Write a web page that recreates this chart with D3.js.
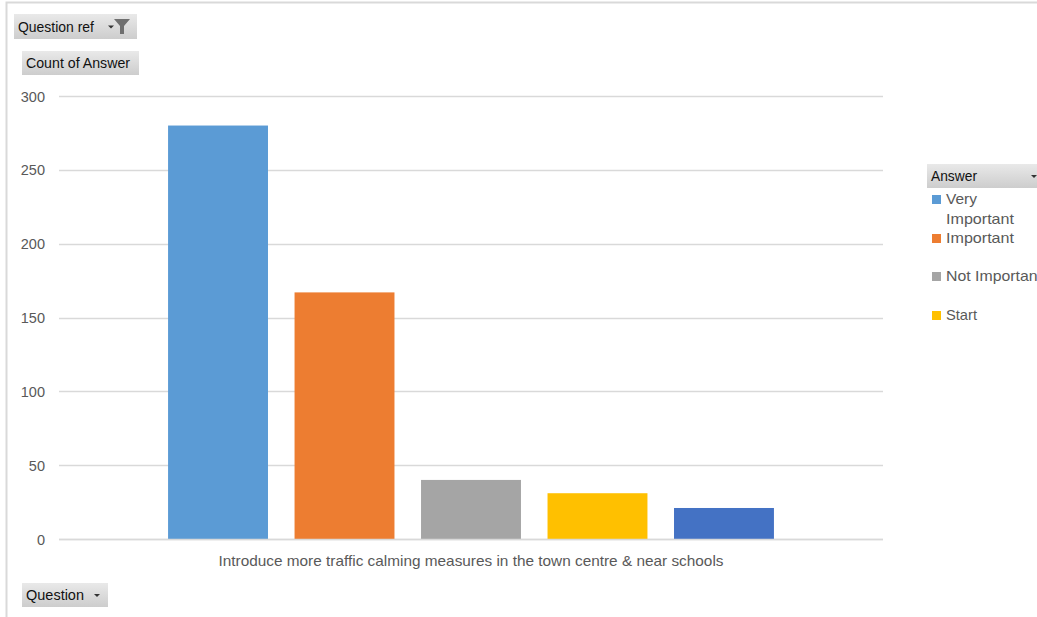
<!DOCTYPE html>
<html>
<head>
<meta charset="utf-8">
<script src="https://cdn.jsdelivr.net/npm/d3@7"></script>
<style>
html,body{margin:0;padding:0;background:#fff;}
svg{display:block;font-family:"Liberation Sans Narrow","Liberation Sans",Arial,sans-serif;}
</style>
</head>
<body>
<svg id="chart" width="1037" height="617"></svg>
<script>
const categories = ["Introduce more traffic calming measures in the town centre & near schools"];
const seriesNames = ["Very Important", "Important", "Not Important", "Start", "(blank)"];
const seriesValues = [280, 167, 40, 31, 21];
const seriesColors = ["#5B9BD5", "#ED7D31", "#A5A5A5", "#FFC000", "#4472C4"];
const yTicks = [0, 50, 100, 150, 200, 250, 300];
const legendLabels = [["Very", "Important"], ["Important"], ["Not Important"], ["Start"]];

const svg = d3.select("#chart");
const W = 1037, H = 617;
const plot = {left: 59, right: 883, top: 96, bottom: 539};

// outer frame
svg.append("rect").attr("x", 6.5).attr("y", 2.5).attr("width", W + 10).attr("height", H + 10)
  .attr("fill", "#fff").attr("stroke", "#d9d9d9").attr("stroke-width", 2);

const defs = svg.append("defs");
const grad = defs.append("linearGradient").attr("id", "btn").attr("x1", 0).attr("y1", 0).attr("x2", 0).attr("y2", 1);
grad.append("stop").attr("offset", "0%").attr("stop-color", "#e9e9e9");
grad.append("stop").attr("offset", "100%").attr("stop-color", "#cdcdcd");

const y = d3.scaleLinear().domain([0, 300]).range([plot.bottom, plot.top]);
const x0 = d3.scaleBand().domain(categories).range([plot.left, plot.right]).paddingInner(0).paddingOuter(0.18);
const x1 = d3.scaleBand().domain(seriesNames).range([0, x0.bandwidth()]).paddingInner(0.21).paddingOuter(0);

// gridlines
svg.append("g").selectAll("line").data(yTicks).join("line")
  .attr("x1", plot.left).attr("x2", plot.right)
  .attr("y1", d => Math.round(y(d)) + 0.5).attr("y2", d => Math.round(y(d)) + 0.5)
  .attr("stroke", "#d9d9d9").attr("stroke-width", 1.3);

// y axis labels
const yAxis = d3.axisLeft(y).tickValues(yTicks).tickSize(0).tickPadding(0);
const ya = svg.append("g").attr("transform", `translate(${plot.left - 14},0)`).call(yAxis);
ya.select(".domain").remove();
ya.selectAll("text").attr("fill", "#595959").attr("font-size", 14.5)
  .attr("font-family", "'Liberation Sans',Arial,sans-serif").attr("dy", "0.35em");

// bars
const data = seriesNames.map((s, i) => ({cat: categories[0], s, v: seriesValues[i], c: seriesColors[i]}));
svg.append("g").selectAll("rect").data(data).join("rect")
  .attr("x", d => x0(d.cat) + x1(d.s))
  .attr("width", x1.bandwidth())
  .attr("y", d => y(d.v))
  .attr("height", d => y(0) - y(d.v))
  .attr("fill", d => d.c);

// x axis baseline redraw
svg.append("line").attr("x1", plot.left).attr("x2", plot.right)
  .attr("y1", Math.round(y(0)) + 0.5).attr("y2", Math.round(y(0)) + 0.5)
  .attr("stroke", "#d9d9d9").attr("stroke-width", 1.3);

// category label
const xAxis = d3.axisBottom(x0).tickSize(0).tickPadding(0);
const xa = svg.append("g").attr("transform", `translate(0,${plot.bottom + 27})`).call(xAxis);
xa.select(".domain").remove();
xa.selectAll("text").attr("fill", "#595959").attr("font-size", 15).attr("dy", 0)
  .attr("font-family", "'Liberation Sans',Arial,sans-serif")
  .attr("textLength", 505).attr("lengthAdjust", "spacingAndGlyphs");

// pivot buttons
function button(x, yy, w, h, label, textLen, opts) {
  const g = svg.append("g");
  g.append("rect").attr("x", x).attr("y", yy).attr("width", w).attr("height", h).attr("fill", "url(#btn)");
  g.append("text").attr("x", x + 4).attr("y", yy + h / 2 + 5).attr("font-size", 14.5).attr("fill", "#111")
    .attr("textLength", textLen).attr("lengthAdjust", "spacingAndGlyphs").text(label);
  if (opts && opts.arrow) {
    const ax = opts.arrow, ay = yy + h / 2;
    g.append("path").attr("d", `M${ax - 3},${ay - 1}L${ax + 3},${ay - 1}L${ax},${ay + 2}Z`).attr("fill", "#333");
  }
  if (opts && opts.funnel) {
    const fx = opts.funnel, fy = yy + 5;
    g.append("path").attr("d", `M${fx},${fy}L${fx + 16},${fy}L${fx + 10},${fy + 7}L${fx + 10},${fy + 15}L${fx + 6},${fy + 15}L${fx + 6},${fy + 7}Z`)
      .attr("fill", "#6f6f6f");
  }
  return g;
}
button(14, 14, 123, 25, "Question ref", 76, {arrow: 111, funnel: 114});
button(22, 51, 117, 24, "Count of Answer", 104);
button(22, 583, 86, 24, "Question", 58, {arrow: 97});
button(927, 164, 120, 24, "Answer", 46, {arrow: 1034});

// legend
const legendY = [195, 234, 272, 311];
const legendLens = {"Very": 31, "Important": 68, "Not Important": 96, "Start": 31};
const lg = svg.append("g").selectAll("g").data(legendLabels).join("g")
  .attr("transform", (d, i) => `translate(932,${legendY[i]})`);
lg.append("rect").attr("width", 9).attr("height", 9).attr("fill", (d, i) => seriesColors[i]);
lg.each(function(lines) {
  const g = d3.select(this);
  lines.forEach((ln, j) => {
    g.append("text").attr("font-size", 14.5).attr("fill", "#595959")
      .attr("font-family", "'Liberation Sans',Arial,sans-serif")
      .attr("x", 14).attr("y", 9 + j * 20)
      .attr("textLength", legendLens[ln]).attr("lengthAdjust", "spacingAndGlyphs")
      .text(ln);
  });
});
</script>
</body>
</html>
